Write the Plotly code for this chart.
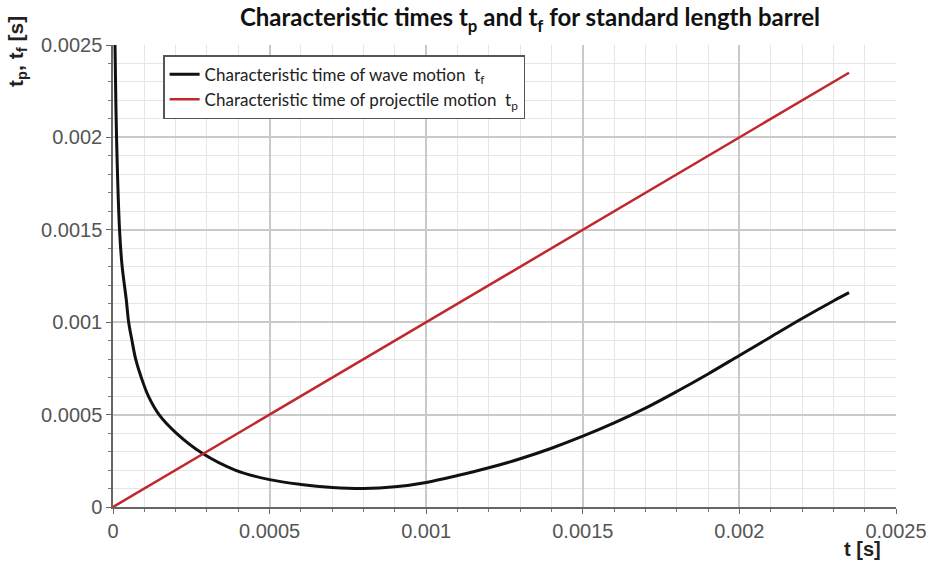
import plotly.graph_objects as go

# Characteristic time of wave motion t_f
t_wave = [0.0000041, 0.0000064, 0.0000112, 0.0000208, 0.0000287, 0.0000425,
          0.00005, 0.0000607, 0.0000724, 0.0000905, 0.000113, 0.000147,
          0.000202, 0.000284, 0.00039,
          0.0005, 0.0006, 0.0007, 0.0008, 0.0009, 0.001, 0.0011, 0.0012,
          0.0013, 0.0014, 0.0015, 0.0016, 0.0017, 0.0018, 0.0019,
          0.002, 0.0021, 0.0022, 0.0023, 0.00235]
tf_wave = [0.00275, 0.0025, 0.002008, 0.001504, 0.00131, 0.00112,
           0.001, 0.0009, 0.0008, 0.0007, 0.0006, 0.0005,
           0.0004, 0.000292, 0.0002,
           0.000148, 0.000122, 0.000106, 0.0001, 0.000109, 0.000133, 0.00017, 0.000212,
           0.000261, 0.000318, 0.000383, 0.000455, 0.000535, 0.000625, 0.00072,
           0.00082, 0.00092, 0.00102, 0.001115, 0.00116]

# Characteristic time of projectile motion t_p
t_proj = [0.0, 0.00235]
tp_proj = [0.0, 0.00235]

tick_vals = [0, 0.0005, 0.001, 0.0015, 0.002, 0.0025]
tick_text = ["0", "0.0005", "0.001", "0.0015", "0.002", "0.0025"]

fig = go.Figure()
fig.add_trace(go.Scatter(
    x=t_wave, y=tf_wave, mode="lines",
    line=dict(color="#111111", width=3, shape="spline", smoothing=1.0),
    name="Characteristic time of wave motion  t<sub>f</sub>"))
fig.add_trace(go.Scatter(
    x=t_proj, y=tp_proj, mode="lines",
    line=dict(color="#c0282d", width=2.5),
    name="Characteristic time of projectile motion  t<sub>p</sub>"))

axis_common = dict(
    tickvals=tick_vals, ticktext=tick_text,
    showline=True, linecolor="#666666", linewidth=1.5,
    ticks="outside", ticklen=5, tickcolor="#666666", tickwidth=1,
    showgrid=True, gridcolor="#c9c9c9", gridwidth=1.5,
    zeroline=False, automargin=False,
    tickfont=dict(family="Liberation Sans, Arial", size=20, color="#555555"),
    minor=dict(dtick=0.0001, ticks="outside", ticklen=3, tickcolor="#777777",
               showgrid=True, gridcolor="#e6e6e6", gridwidth=1),
)

fig.update_xaxes(range=[0, 0.0025], **axis_common)
fig.update_yaxes(range=[0, 0.0025], **axis_common)

fig.update_layout(
    width=929, height=565,
    margin=dict(l=113, r=33, t=45, b=58, autoexpand=False),
    paper_bgcolor="white", plot_bgcolor="white",
    title=dict(
        text="Characteristic times t<sub>p</sub> and t<sub>f</sub> for standard length barrel",
        x=0.5705, xref="container", xanchor="center",
        y=0.968, yref="container", yanchor="middle",
        font=dict(family="Lato", size=24, color="#111111", weight="bold")),
    legend=dict(
        x=0.064, y=0.978, xanchor="left", yanchor="top",
        bgcolor="white", bordercolor="#555555", borderwidth=1.5,
        font=dict(family="Lato", size=17, color="#222222"),
        tracegroupgap=0),
    showlegend=True,
)

fig.add_annotation(
    text="<b>t<sub>p</sub>, t<sub>f</sub> [s]</b>", textangle=-90,
    xref="paper", yref="paper", x=-0.1226, y=0.985,
    xanchor="center", yanchor="middle", showarrow=False,
    font=dict(family="Liberation Sans, Arial", size=21, color="#222222"))
fig.add_annotation(
    text="<b>t [s]</b>",
    xref="paper", yref="paper", x=0.9566, y=-0.091,
    xanchor="center", yanchor="middle", showarrow=False,
    font=dict(family="Liberation Sans, Arial", size=20, color="#222222"))

fig.write_html("out.html")
